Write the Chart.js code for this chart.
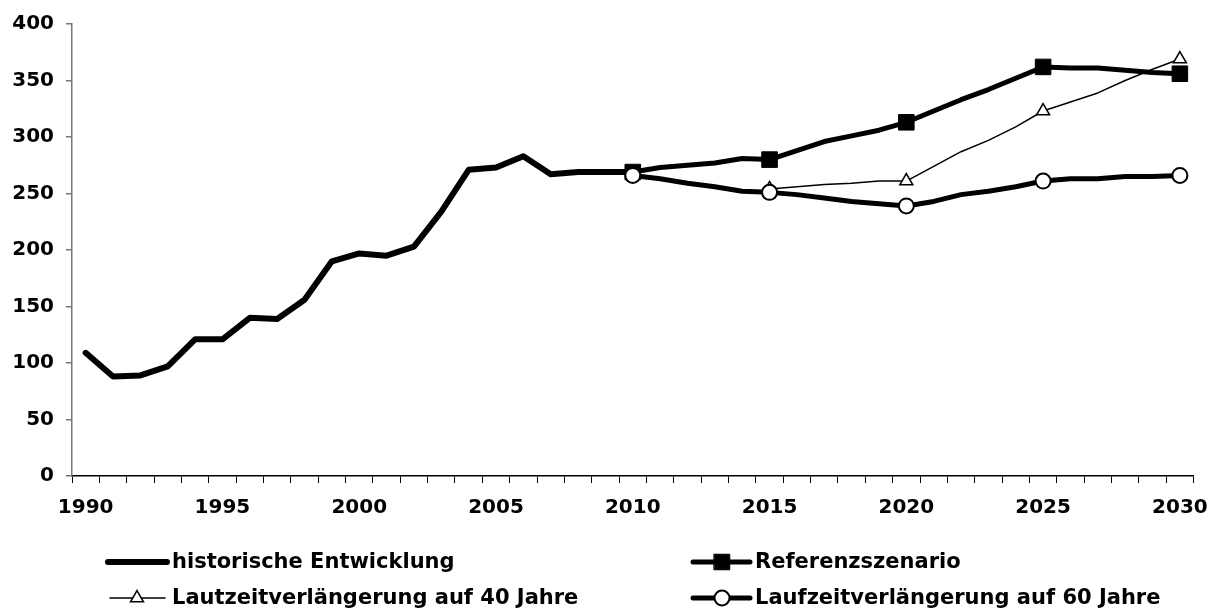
<!DOCTYPE html>
<html>
<head>
<meta charset="utf-8">
<script src="https://cdn.jsdelivr.net/npm/chart.js@4.4.1/dist/chart.umd.min.js"></script>
<style>
    body { margin: 0; background: #fff; }
</style>
</head>
<body>
<canvas id="kernChart" width="1221" height="610"></canvas>
<script>
// Jahre (Kategorien)
const years = [1990, 1991, 1992, 1993, 1994, 1995, 1996, 1997, 1998, 1999,
    2000, 2001, 2002, 2003, 2004, 2005, 2006, 2007, 2008, 2009,
    2010, 2011, 2012, 2013, 2014, 2015, 2016, 2017, 2018, 2019,
    2020, 2021, 2022, 2023, 2024, 2025, 2026, 2027, 2028, 2029, 2030];
const yTicks = [0, 50, 100, 150, 200, 250, 300, 350, 400];

// Werte je Reihe, ab dem jeweiligen Startjahr
const historicStart = 1990;
const historic = [109, 88, 89, 97, 121, 121, 140, 139, 156, 190,
    197, 195, 203, 234, 271, 273, 283, 267, 269, 269, 269];

const referenzStart = 2010;
const referenz = [269, 273, 275, 277, 281, 280, 288, 296, 301, 306,
    313, 323, 333, 342, 352, 362, 361, 361, 359, 357, 356];

const lz40Start = 2015;
const lz40 = [254, 256, 258, 259, 261, 261, 274, 287, 297, 309,
    323, 331, 339, 350, 360, 369];

const lz60Start = 2010;
const lz60 = [266, 263, 259, 256, 252, 251, 249, 246, 243, 241,
    239, 243, 249, 252, 256, 261, 263, 263, 265, 265, 266];

const seriesNames = [
    "historische Entwicklung",
    "Referenzszenario",
    "Lautzeitverlängerung auf 40 Jahre",
    "Laufzeitverlängerung auf 60 Jahre"
];

// align a series to the year axis
function pad(start, values) {
    const out = years.map(() => null);
    values.forEach((v, i) => { out[years.indexOf(start) + i] = v; });
    return out;
}

// markers only every fifth year
function markerEvery5(r) {
    return (ctx) => (years[ctx.dataIndex] % 5 === 0 ? r : 0);
}

const FONT = '"DejaVu Sans", sans-serif';

const datasets = [
    {
        label: seriesNames[0],
        data: pad(historicStart, historic),
        borderColor: "#000",
        borderWidth: 6,
        pointRadius: 0,
        order: 3
    },
    {
        label: seriesNames[1],
        data: pad(referenzStart, referenz),
        borderColor: "#000",
        borderWidth: 5,
        pointStyle: "rect",
        pointRadius: markerEvery5(11),
        pointBackgroundColor: "#000",
        pointBorderColor: "#000",
        pointBorderWidth: 1,
        order: 2
    },
    {
        label: seriesNames[2],
        data: pad(lz40Start, lz40),
        borderColor: "#000",
        borderWidth: 1.5,
        pointStyle: "triangle",
        pointRadius: markerEvery5(7.5),
        pointBackgroundColor: "#fff",
        pointBorderColor: "#000",
        pointBorderWidth: 1.5,
        order: 1
    },
    {
        label: seriesNames[3],
        data: pad(lz60Start, lz60),
        borderColor: "#000",
        borderWidth: 5,
        pointStyle: "circle",
        pointRadius: markerEvery5(7.5),
        pointBackgroundColor: "#fff",
        pointBorderColor: "#000",
        pointBorderWidth: 2,
        order: 0
    }
];

// Legende: zwei Spalten unter dem Diagramm
const legendSlots = [
    { index: 0, x0: 108, x1: 167, mark: 137, tx: 172, y: 562 },
    { index: 1, x0: 693, x1: 750, mark: 722, tx: 755, y: 562 },
    { index: 2, x0: 110, x1: 165, mark: 137, tx: 172, y: 598 },
    { index: 3, x0: 693, x1: 750, mark: 722, tx: 755, y: 598 }
];

const bottomLegend = {
    id: "bottomLegend",
    afterDraw(chart) {
        const ctx = chart.ctx;
        ctx.save();
        ctx.font = `bold 21px ${FONT}`;
        ctx.textBaseline = "middle";
        ctx.lineCap = "round";
        legendSlots.forEach(slot => {
            const ds = chart.data.datasets[slot.index];
            ctx.strokeStyle = ds.borderColor;
            ctx.lineWidth = ds.borderWidth;
            ctx.beginPath();
            ctx.moveTo(slot.x0, slot.y);
            ctx.lineTo(slot.x1, slot.y);
            ctx.stroke();
            if (ds.pointStyle) {
                const r = ds.pointRadius({ dataIndex: years.indexOf(2030) });
                ctx.fillStyle = ds.pointBackgroundColor;
                ctx.strokeStyle = ds.pointBorderColor;
                ctx.lineWidth = ds.pointBorderWidth;
                Chart.helpers.drawPoint(ctx, {
                    pointStyle: ds.pointStyle,
                    radius: r,
                    borderWidth: ds.pointBorderWidth,
                    rotation: 0
                }, slot.mark, slot.y);
            }
            ctx.fillStyle = "#000";
            ctx.fillText(ds.label, slot.tx, slot.y + 1);
        });
        ctx.restore();
    }
};

const chartCtx = document.getElementById("kernChart").getContext("2d");
const kernChart = new Chart(chartCtx, {
    type: "line",
    data: {
        labels: years.map(String),
        datasets: datasets
    },
    options: {
        responsive: false,
        animation: false,
        events: [],
        spanGaps: false,
        layout: { padding: { top: 19, right: 24, left: 0, bottom: 0 } },
        elements: {
            line: { tension: 0, borderJoinStyle: "round", borderCapStyle: "round" }
        },
        plugins: {
            legend: { display: false },
            tooltip: { enabled: false }
        },
        scales: {
            x: {
                type: "category",
                offset: true,
                afterFit: (scale) => { scale.height = 134; },
                grid: {
                    offset: true,
                    drawOnChartArea: false,
                    drawTicks: true,
                    tickLength: 7,
                    color: "#000",
                    lineWidth: 1
                },
                border: { color: "#000", width: 1.5 },
                ticks: {
                    autoSkip: false,
                    maxRotation: 0,
                    padding: 13,
                    color: "#000",
                    font: { family: FONT, size: 20, weight: "bold" },
                    callback: function (value, index) {
                        return years[index] % 5 === 0 ? String(years[index]) : "";
                    }
                }
            },
            y: {
                min: 0,
                max: 400,
                afterFit: (scale) => { scale.width = 72; },
                afterBuildTicks: (scale) => { scale.ticks = yTicks.map(v => ({ value: v })); },
                grid: {
                    drawOnChartArea: false,
                    drawTicks: true,
                    tickLength: 6,
                    color: "#777",
                    lineWidth: 1.5
                },
                border: { color: "#777", width: 1.5 },
                ticks: {
                    padding: 12,
                    color: "#000",
                    font: { family: FONT, size: 20, weight: "bold" }
                }
            }
        }
    },
    plugins: [bottomLegend]
});
</script>
</body>
</html>
